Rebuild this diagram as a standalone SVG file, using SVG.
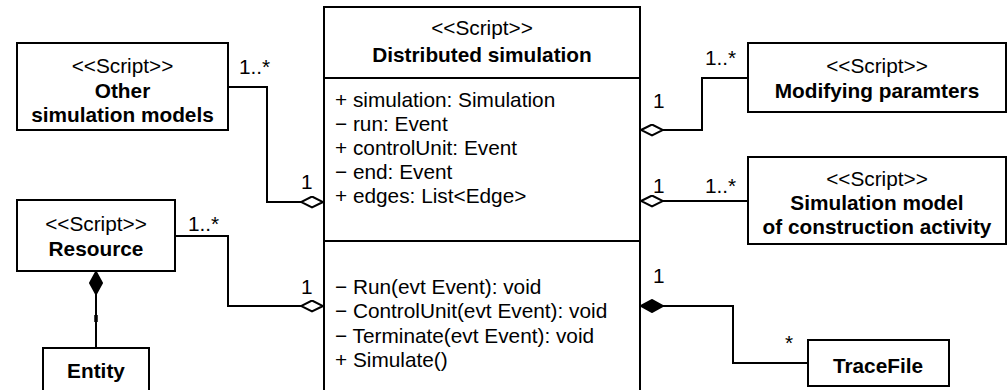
<svg xmlns="http://www.w3.org/2000/svg" width="1008" height="390" viewBox="0 0 1008 390">
  <style>
    .box { fill: #ffffff; stroke: #000000; stroke-width: 2; }
    .div { fill: none; stroke: #000000; stroke-width: 2; }
    .edge { fill: none; stroke: #000000; stroke-width: 2; }
    text { font-family: "Liberation Sans", Arial, Helvetica, sans-serif; font-size: 20.8px; fill: #000000; }
    .c { text-anchor: middle; }
    .b { font-weight: bold; }
  </style>
  <defs>
    <!-- hollow diamond: aggregation end -->
    <marker id="aggr" viewBox="0 0 24 13" refX="0" refY="6.5" markerWidth="24" markerHeight="13" markerUnits="userSpaceOnUse" orient="auto">
      <path d="M1,6.5 L12,1 L23,6.5 L12,12 Z" fill="#ffffff" stroke="#000000" stroke-width="2"/>
    </marker>
    <!-- filled diamond: composition end -->
    <marker id="comp" viewBox="0 0 24 14" refX="0" refY="7" markerWidth="24" markerHeight="14" markerUnits="userSpaceOnUse" orient="auto">
      <path d="M1,7 L12,1 L23,7 L12,13 Z" fill="#000000" stroke="#000000" stroke-width="2"/>
    </marker>
  </defs>

  <rect width="1008" height="390" fill="#ffffff"/>

  <!-- connectors -->
  <g id="connectors">
    <path class="edge" d="M324,202 L267,202 L267,87 L228,87" marker-start="url(#aggr)"/>
    <path class="edge" d="M324,306 L228,306 L228,236 L175,236" marker-start="url(#aggr)"/>
    <path class="edge" d="M96,271 L96,348" marker-start="url(#comp)"/>
    <path class="edge" d="M96,315 L96,322" style="stroke-width:3.5"/>
    <path class="edge" d="M640,130 L702,130 L702,78 L748,78" marker-start="url(#aggr)"/>
    <path class="edge" d="M640,201 L748,201" marker-start="url(#aggr)"/>
    <path class="edge" d="M640,306 L733,306 L733,363 L808,363" marker-start="url(#comp)"/>

    <text x="239" y="74">1..*</text>
    <text x="301" y="189">1</text>
    <text x="188" y="231">1..*</text>
    <text x="301" y="294">1</text>
    <text x="705" y="65">1..*</text>
    <text x="653" y="108">1</text>
    <text x="653" y="193">1</text>
    <text x="705" y="193">1..*</text>
    <text x="653" y="283">1</text>
    <text x="785" y="350">*</text>
  </g>

  <g id="distributed-simulation">
    <rect class="box" x="324" y="7" width="316" height="400"/>
    <line class="div" x1="324" y1="78" x2="640" y2="78"/>
    <line class="div" x1="324" y1="241" x2="640" y2="241"/>
    <text class="c" x="482" y="35">&lt;&lt;Script&gt;&gt;</text>
    <text class="c b" x="482" y="62">Distributed simulation</text>
    <text x="335" y="107">+ simulation: Simulation</text>
    <text x="335" y="131">− run: Event</text>
    <text x="335" y="155">+ controlUnit: Event</text>
    <text x="335" y="179">− end: Event</text>
    <text x="335" y="203">+ edges: List&lt;Edge&gt;</text>
    <text x="335" y="294">− Run(evt Event): void</text>
    <text x="335" y="318">− ControlUnit(evt Event): void</text>
    <text x="335" y="343">− Terminate(evt Event): void</text>
    <text x="335" y="367">+ Simulate()</text>
  </g>

  <g id="other-simulation-models">
    <rect class="box" x="17" y="43" width="211" height="87"/>
    <text class="c" x="122.5" y="73">&lt;&lt;Script&gt;&gt;</text>
    <text class="c b" x="122.5" y="98">Other</text>
    <text class="c b" x="122.5" y="122">simulation models</text>
  </g>

  <g id="resource">
    <rect class="box" x="17" y="200" width="158" height="71"/>
    <text class="c" x="96" y="231">&lt;&lt;Script&gt;&gt;</text>
    <text class="c b" x="96" y="256">Resource</text>
  </g>

  <g id="entity">
    <rect class="box" x="43" y="348" width="106" height="60"/>
    <text class="c b" x="96" y="378">Entity</text>
  </g>

  <g id="modifying-parameters">
    <rect class="box" x="748" y="43" width="258" height="69"/>
    <text class="c" x="877" y="73">&lt;&lt;Script&gt;&gt;</text>
    <text class="c b" x="877" y="98">Modifying paramters</text>
  </g>

  <g id="construction-activity-model">
    <rect class="box" x="748" y="157" width="258" height="87"/>
    <text class="c" x="877" y="186">&lt;&lt;Script&gt;&gt;</text>
    <text class="c b" x="877" y="210">Simulation model</text>
    <text class="c b" x="877" y="234">of construction activity</text>
  </g>

  <g id="tracefile">
    <rect class="box" x="808" y="340" width="141" height="46"/>
    <text class="c b" x="878" y="373">TraceFile</text>
  </g>
</svg>
